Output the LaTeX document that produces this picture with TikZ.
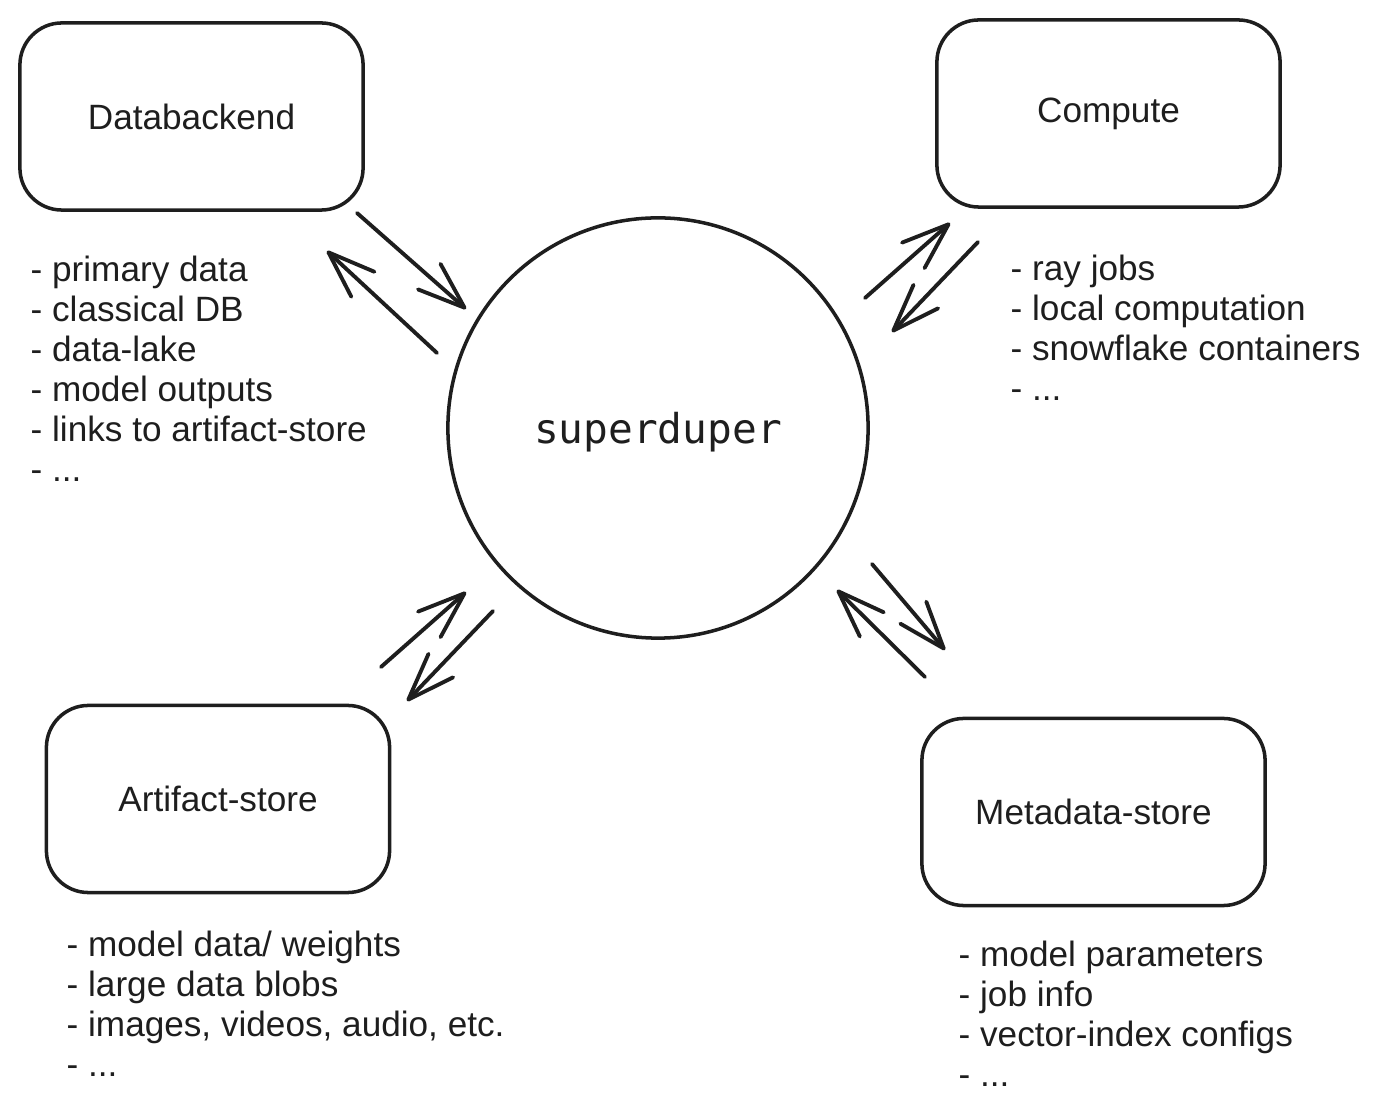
\documentclass[tikz,border=0pt]{standalone}
\usepackage{fontspec}
\setmainfont{Liberation Sans}
\newfontfamily\codefont{DejaVu Sans Mono}
\usetikzlibrary{arrows.meta, positioning}
\definecolor{ink}{HTML}{1E1E1E}
\tikzstyle{every picture} = [x=0.01cm, y=-0.01cm]

\begin{document}
\begin{tikzpicture} [box/.style={draw=ink, line width=1pt, rounded corners=0.42cm, minimum width=3.43cm, minimum height=1.87cm, text=ink, font=\fontsize{10}{12}\selectfont},
                     notes/.style={anchor=north west, align=left, inner sep=0pt, text=ink, font=\fontsize{10}{11.38}\selectfont},
                     flow/.style={draw=ink, line width=1.1pt, line cap=round, -{Straight Barb[length=4.7mm, width=3.4mm, line width=1.1pt, round]}}]
            \useasboundingbox (0,0) rectangle (1381,1113);

            \node (core) [circle,draw=ink,line width=1pt,minimum size=4.2cm,inner sep=0pt,text=ink,text depth=0pt,font=\codefont\fontsize{11.7}{14}\selectfont] at (658,428) {superduper};

            \node (databackend) [box] at (191.5,116.5) {Databackend};
            \node (compute) [box] at (1108.5,113.5) {Compute};
            \node (artifact) [box] at (218,799) {Artifact-store};
            \node (metadata) [box] at (1093.5,812) {Metadata-store};

            \node (databackend notes) [notes] at (30,255) {- primary data\\- classical DB\\- data-lake\\- model outputs\\- links to artifact-store\\- ...};
            \node (compute notes) [notes] at (1010,254) {- ray jobs\\- local computation\\- snowflake containers\\- ...};
            \node (artifact notes) [notes] at (66,930) {- model data/ weights\\- large data blobs\\- images, videos, audio, etc.\\- ...};
            \node (metadata notes) [notes] at (958,940) {- model parameters\\- job info\\- vector-index configs\\- ...};

            % loose ends of the arrow pairs
            \coordinate (db a) at (357,213);  \coordinate (db b) at (466,309);
            \coordinate (db c) at (437,353);  \coordinate (db d) at (327,251);
            \coordinate (cp a) at (865,298);  \coordinate (cp b) at (950,223);
            \coordinate (cp c) at (978,242);  \coordinate (cp d) at (892,332);
            \coordinate (af a) at (381,667);  \coordinate (af b) at (466,592);
            \coordinate (af c) at (493,611);  \coordinate (af d) at (407,701);
            \coordinate (md a) at (872,564);  \coordinate (md b) at (945,650);
            \coordinate (md c) at (925,677);  \coordinate (md d) at (837,590);

            \path (db a) edge[flow] (db b)
                  (db c) edge[flow] (db d)
                  (cp a) edge[flow] (cp b)
                  (cp c) edge[flow] (cp d)
                  (af a) edge[flow] (af b)
                  (af c) edge[flow] (af d)
                  (md a) edge[flow] (md b)
                  (md c) edge[flow] (md d);
        \end{tikzpicture}
\end{document}
